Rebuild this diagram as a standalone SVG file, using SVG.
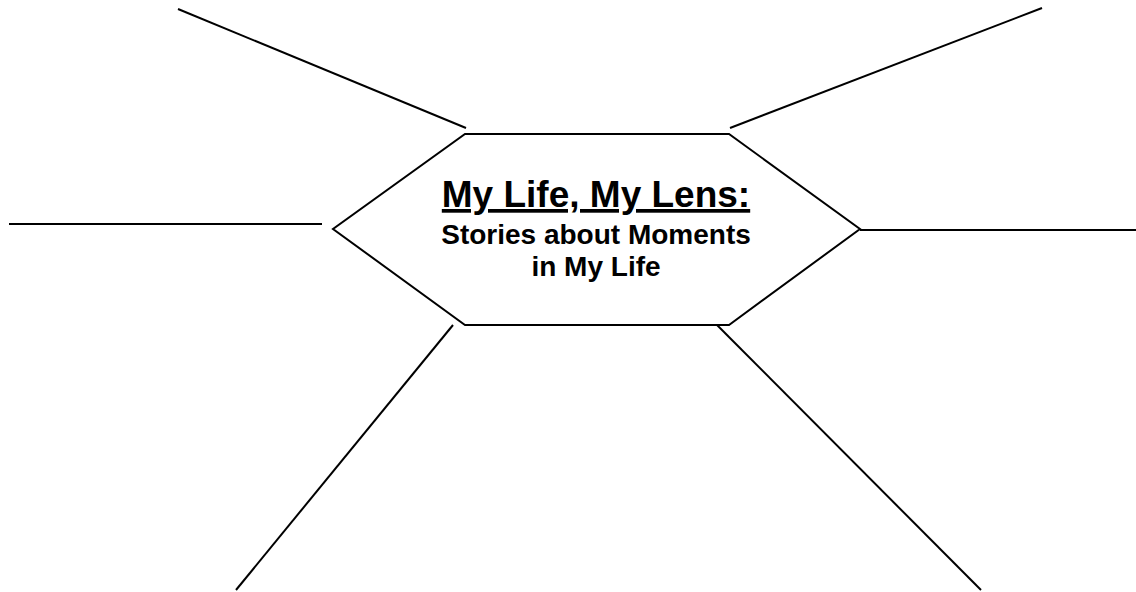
<svg xmlns="http://www.w3.org/2000/svg" width="1136" height="592" viewBox="0 0 1136 592">
<style>
.ln{stroke:#000;stroke-width:2;fill:none;stroke-linecap:butt}
.hex{stroke:#000;stroke-width:2;fill:#fff}
.t{font-family:"Liberation Sans",Arial,sans-serif;font-weight:bold;fill:#000;text-anchor:middle}
</style>
<rect width="1136" height="592" fill="#fff"/>
<g id="connectors">
<line class="ln" x1="178" y1="9" x2="466" y2="128"/>
<line class="ln" x1="730" y1="128" x2="1042" y2="8"/>
<line class="ln" x1="9" y1="224" x2="322" y2="224"/>
<line class="ln" x1="860" y1="230" x2="1136" y2="230"/>
<line class="ln" x1="453" y1="325" x2="236" y2="590"/>
<line class="ln" x1="717" y1="325" x2="981" y2="590"/>
</g>
<g id="center">
<polygon class="hex" points="465,134 729,134 860,229 729,325 465,325 333,229"/>
<text class="t" x="596" y="207" font-size="37" text-decoration="underline">My Life, My Lens:</text>
<text class="t" x="596" y="244" font-size="28">Stories about Moments</text>
<text class="t" x="596" y="276" font-size="28">in My Life</text>
</g>
</svg>
